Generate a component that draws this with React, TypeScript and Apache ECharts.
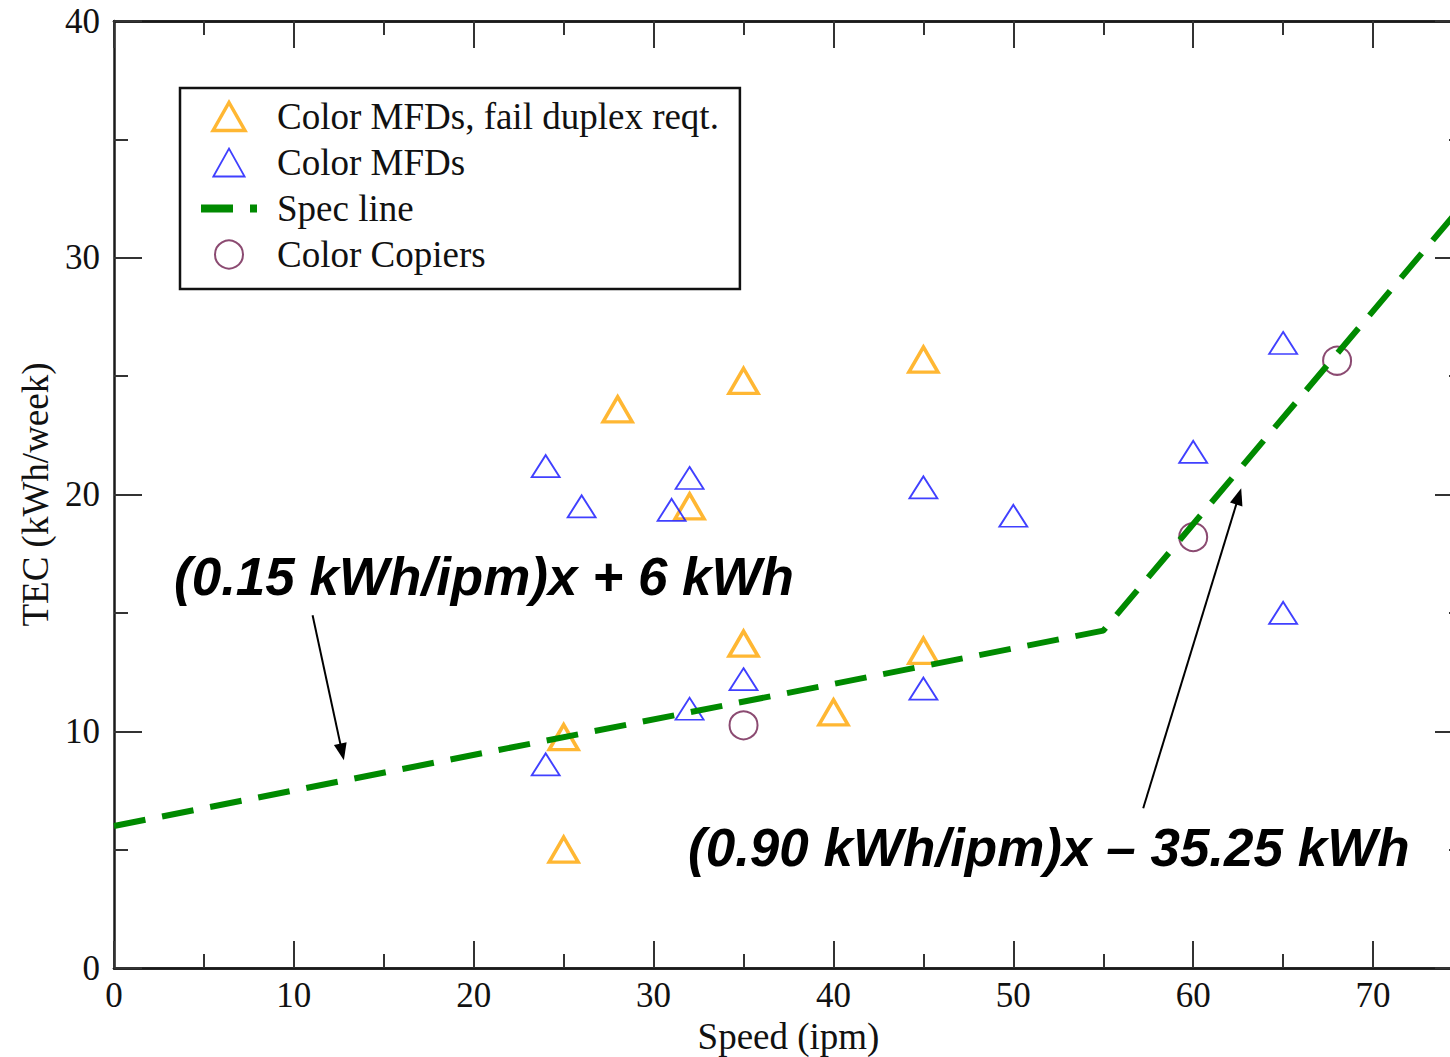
import React, { useEffect, useRef } from "react";
import * as echarts from "echarts";

// ---- data ----
const failDuplexMFDs: [number, number][] = [
  [28, 23.6], [35, 24.8], [45, 25.7], [32, 19.5], [35, 13.7],
  [45, 13.4], [40, 10.8], [25, 9.75], [25, 5.0],
];
const colorMFDs: [number, number][] = [
  [24, 21.2], [26, 19.5], [32, 20.7], [31, 19.35], [45, 20.3],
  [35, 12.2], [32, 10.95], [45, 11.8], [24, 8.6], [50, 19.1],
  [60, 21.8], [65, 26.4], [65, 15.0],
];
const colorCopiers: [number, number][] = [[35, 10.25], [60, 18.2], [68, 25.65]];
const specLine: [number, number][] = [[0, 6], [55, 14.25], [75, 32.25]];

const seriesNames = [
  "Color MFDs, fail duplex reqt.",
  "Color MFDs",
  "Spec line",
  "Color Copiers",
];
const xTitle = "Speed (ipm)";
const yTitle = "TEC (kWh/week)";
const annotationTexts = [
  "(0.15 kWh/ipm)x + 6 kWh",
  "(0.90 kWh/ipm)x \u2013 35.25 kWh",
];
// arrows in data coordinates: [from, to]
const arrowCoords: [number, number][][] = [
  [[11.04, 14.9], [12.68, 9.13]],
  [[57.22, 6.75], [62.53, 19.92]],
];

const X_MIN = 0, X_MAX = 75, Y_MIN = 0, Y_MAX = 40;

const SERIF = '"Liberation Serif", "Times New Roman", serif';
const SANS = '"Liberation Sans", Arial, sans-serif';
const AXIS_COLOR = "#1a1a1a";

export default function App() {
  const ref = useRef<HTMLDivElement>(null);
  useEffect(() => {
    if (!ref.current) return;
    const chart = echarts.init(ref.current, undefined, { renderer: "svg" });

    const baseX = (position: string, interval: number, tickLen: number, labels: boolean, extra: any = {}) => ({
      type: "value",
      position,
      min: X_MIN,
      max: X_MAX,
      interval,
      axisLine: { show: true, onZero: false, lineStyle: { color: AXIS_COLOR, width: 2.5 } },
      axisTick: { show: true, inside: true, length: tickLen, lineStyle: { color: "#333", width: 2 } },
      splitLine: { show: false },
      axisLabel: labels
        ? { show: true, showMaxLabel: false, margin: 10, fontSize: 35, fontFamily: SERIF, color: "#111" }
        : { show: false },
      ...extra,
    });
    const baseY = (position: string, labels: boolean, extra: any = {}) => ({
      type: "value",
      position,
      min: Y_MIN,
      max: Y_MAX,
      interval: 10,
      axisLine: { show: true, onZero: false, lineStyle: { color: AXIS_COLOR, width: 2.5 } },
      axisTick: { show: true, inside: true, length: 28, lineStyle: { color: "#333", width: 2 } },
      minorTick: { show: true, splitNumber: 2, length: 14, lineStyle: { color: "#333", width: 2 } },
      splitLine: { show: false },
      minorSplitLine: { show: false },
      axisLabel: labels
        ? { show: true, margin: 14, fontSize: 35, fontFamily: SERIF, color: "#111" }
        : { show: false },
      ...extra,
    });

    const triOrange = "path://M0,29L16.5,0L33,29Z";
    const triBlue = "path://M0,26L14.5,0L29,26Z";

    chart.setOption({
      animation: false,
      backgroundColor: "#ffffff",
      grid: {
        left: 114,
        right: 7,
        top: 21,
        bottom: 89,
        containLabel: false,
        outerBoundsMode: "none",
      },
      xAxis: [
        baseX("bottom", 10, 27, true, {
          name: xTitle,
          nameLocation: "middle",
          nameGap: 46,
          nameTextStyle: { fontSize: 37, fontFamily: SERIF, color: "#111" },
        }),
        baseX("bottom", 5, 14, false),
        baseX("top", 10, 27, false),
        baseX("top", 5, 14, false),
      ],
      yAxis: [
        baseY("left", true, {
          name: yTitle,
          nameLocation: "middle",
          nameGap: 60,
          nameRotate: 90,
          nameTextStyle: { fontSize: 37, fontFamily: SERIF, color: "#111" },
        }),
        baseY("right", false),
      ],
      legend: {
        orient: "vertical",
        left: 180,
        top: 88,
        padding: [10, 21, 16, 17],
        itemGap: 9,
        itemWidth: 56,
        itemHeight: 28,
        borderColor: "#111",
        borderWidth: 2.5,
        backgroundColor: "#ffffff",
        selectedMode: false,
        textStyle: {
          fontSize: 37,
          fontFamily: SERIF,
          color: "#111",
          padding: [0, 0, 0, 15],
        },
        lineStyle: { width: 8 },
        data: [
          { name: seriesNames[0], icon: triOrange, itemStyle: { borderWidth: 3.5 } },
          { name: seriesNames[1], icon: triBlue, itemStyle: { borderWidth: 1.8 } },
          { name: seriesNames[2], itemStyle: { opacity: 0, color: "rgba(0,0,0,0)", borderWidth: 0 } },
          { name: seriesNames[3], icon: "circle", itemStyle: { borderWidth: 2 } },
        ],
      },
      series: [
        {
          name: seriesNames[0],
          type: "scatter",
          data: failDuplexMFDs,
          symbol: "triangle",
          symbolSize: [29, 25],
          itemStyle: { color: "rgba(0,0,0,0)", borderColor: "#ffa500", borderWidth: 3.5 },
          z: 2,
        },
        {
          name: seriesNames[1],
          type: "scatter",
          data: colorMFDs,
          symbol: "triangle",
          symbolSize: [28, 22],
          itemStyle: { color: "rgba(0,0,0,0)", borderColor: "#1010ff", borderWidth: 1.8 },
          z: 2,
        },
        {
          name: seriesNames[3],
          type: "scatter",
          data: colorCopiers,
          symbol: "circle",
          symbolSize: 28,
          itemStyle: { color: "rgba(0,0,0,0)", borderColor: "#6e1d4e", borderWidth: 2 },
          z: 2,
        },
        {
          name: seriesNames[2],
          type: "line",
          data: specLine,
          symbol: "none",
          lineStyle: { color: "#008a00", width: 6, type: [32, 17] },
          itemStyle: { color: "#008a00" },
          z: 3,
          markLine: {
            silent: true,
            symbol: ["none", "triangle"],
            symbolSize: [13, 17],
            label: { show: false },
            lineStyle: { color: "#000", width: 2, type: "solid" },
            data: arrowCoords.map(([a, b]) => [{ coord: a }, { coord: b }]),
          },
        },
      ],
      graphic: [
        {
          type: "text",
          x: 174,
          y: 576,
          style: {
            text: annotationTexts[0],
            fill: "#000",
            fontSize: 53,
            fontWeight: "bold",
            fontStyle: "italic",
            fontFamily: SANS,
            verticalAlign: "middle",
            align: "left",
          },
          z: 10,
        },
        {
          type: "text",
          x: 688,
          y: 847,
          style: {
            text: annotationTexts[1],
            fill: "#000",
            fontSize: 53,
            fontWeight: "bold",
            fontStyle: "italic",
            fontFamily: SANS,
            verticalAlign: "middle",
            align: "left",
          },
          z: 10,
        },
      ],
    });
    return () => chart.dispose();
  }, []);

  return (
    <div style={{ position: "absolute", left: 0, top: 0, width: 1450, height: 1057, overflow: "hidden", background: "#fff" }}>
      <div ref={ref} style={{ width: 1470, height: 1057 }} />
    </div>
  );
}
